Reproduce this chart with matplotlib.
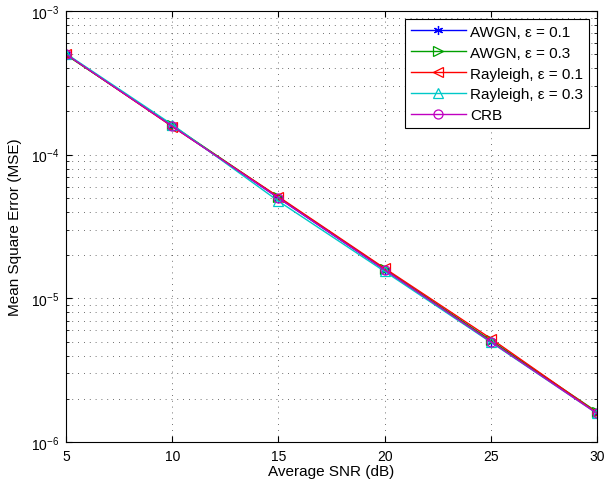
import matplotlib
matplotlib.use('Agg')
import matplotlib.pyplot as plt
import numpy as np

plt.rcParams['font.family'] = ['Liberation Sans', 'DejaVu Sans']

snr = [5, 10, 15, 20, 25, 30]
awgn_01 = [5.0e-4, 1.58e-4, 5.0e-5, 1.58e-5, 5.0e-6, 1.6e-6]
awgn_03 = [4.95e-4, 1.6e-4, 5.05e-5, 1.6e-5, 5.1e-6, 1.62e-6]
rayleigh_01 = [5.0e-4, 1.57e-4, 5.1e-5, 1.62e-5, 5.25e-6, 1.6e-6]
rayleigh_03 = [5.05e-4, 1.62e-4, 4.75e-5, 1.54e-5, 4.95e-6, 1.58e-6]
crb = [5.0e-4, 1.58e-4, 5.0e-5, 1.58e-5, 5.0e-6, 1.58e-6]

labels = ['AWGN, ε = 0.1', 'AWGN, ε = 0.3', 'Rayleigh, ε = 0.1',
          'Rayleigh, ε = 0.3', 'CRB']
series = [awgn_01, awgn_03, rayleigh_01, rayleigh_03, crb]
colors = ['#0000ff', '#00a000', '#ff0000', '#00c8c8', '#c000c0']
markers = [(6, 2, 0), '>', '<', '^', 'o']

fig = plt.figure(figsize=(6.08, 4.89), dpi=100)
ax = fig.add_axes([66 / 608, 1 - 443 / 489, (597 - 66) / 608, (443 - 12) / 489])

for vals, lab, c, m in zip(series, labels, colors, markers):
    ax.semilogy(snr, vals, color=c, marker=m, markersize=6.5,
                markerfacecolor='none', markeredgecolor=c, linewidth=1.0,
                markeredgewidth=0.9, label=lab)

ax.set_xlim(5, 30)
ax.set_ylim(1e-6, 1e-3)
ax.set_xticks([5, 10, 15, 20, 25, 30])
ax.grid(True, which='major', linestyle=(0, (1, 6)), color='#404040', linewidth=0.6)
ax.grid(True, which='minor', axis='y', linestyle=(0, (1, 6)), color='#404040', linewidth=0.6)
ax.tick_params(which='both', direction='in', top=True, right=True, labelsize=10)
ax.tick_params(which='major', length=4, pad=5)
ax.tick_params(which='minor', length=2)
for s in ax.spines.values():
    s.set_linewidth(0.8)

ax.set_xlabel('Average SNR (dB)', fontsize=11, labelpad=1)
ax.set_ylabel('Mean Square Error (MSE)', fontsize=11, labelpad=6)

leg = ax.legend(loc='upper right', fontsize=11, fancybox=False, framealpha=1,
                edgecolor='black', borderpad=0.35, labelspacing=0.45,
                handlelength=3.6, handletextpad=0.3, borderaxespad=0.55)
leg.get_frame().set_linewidth(0.8)

fig.savefig('out.png', dpi=100)
